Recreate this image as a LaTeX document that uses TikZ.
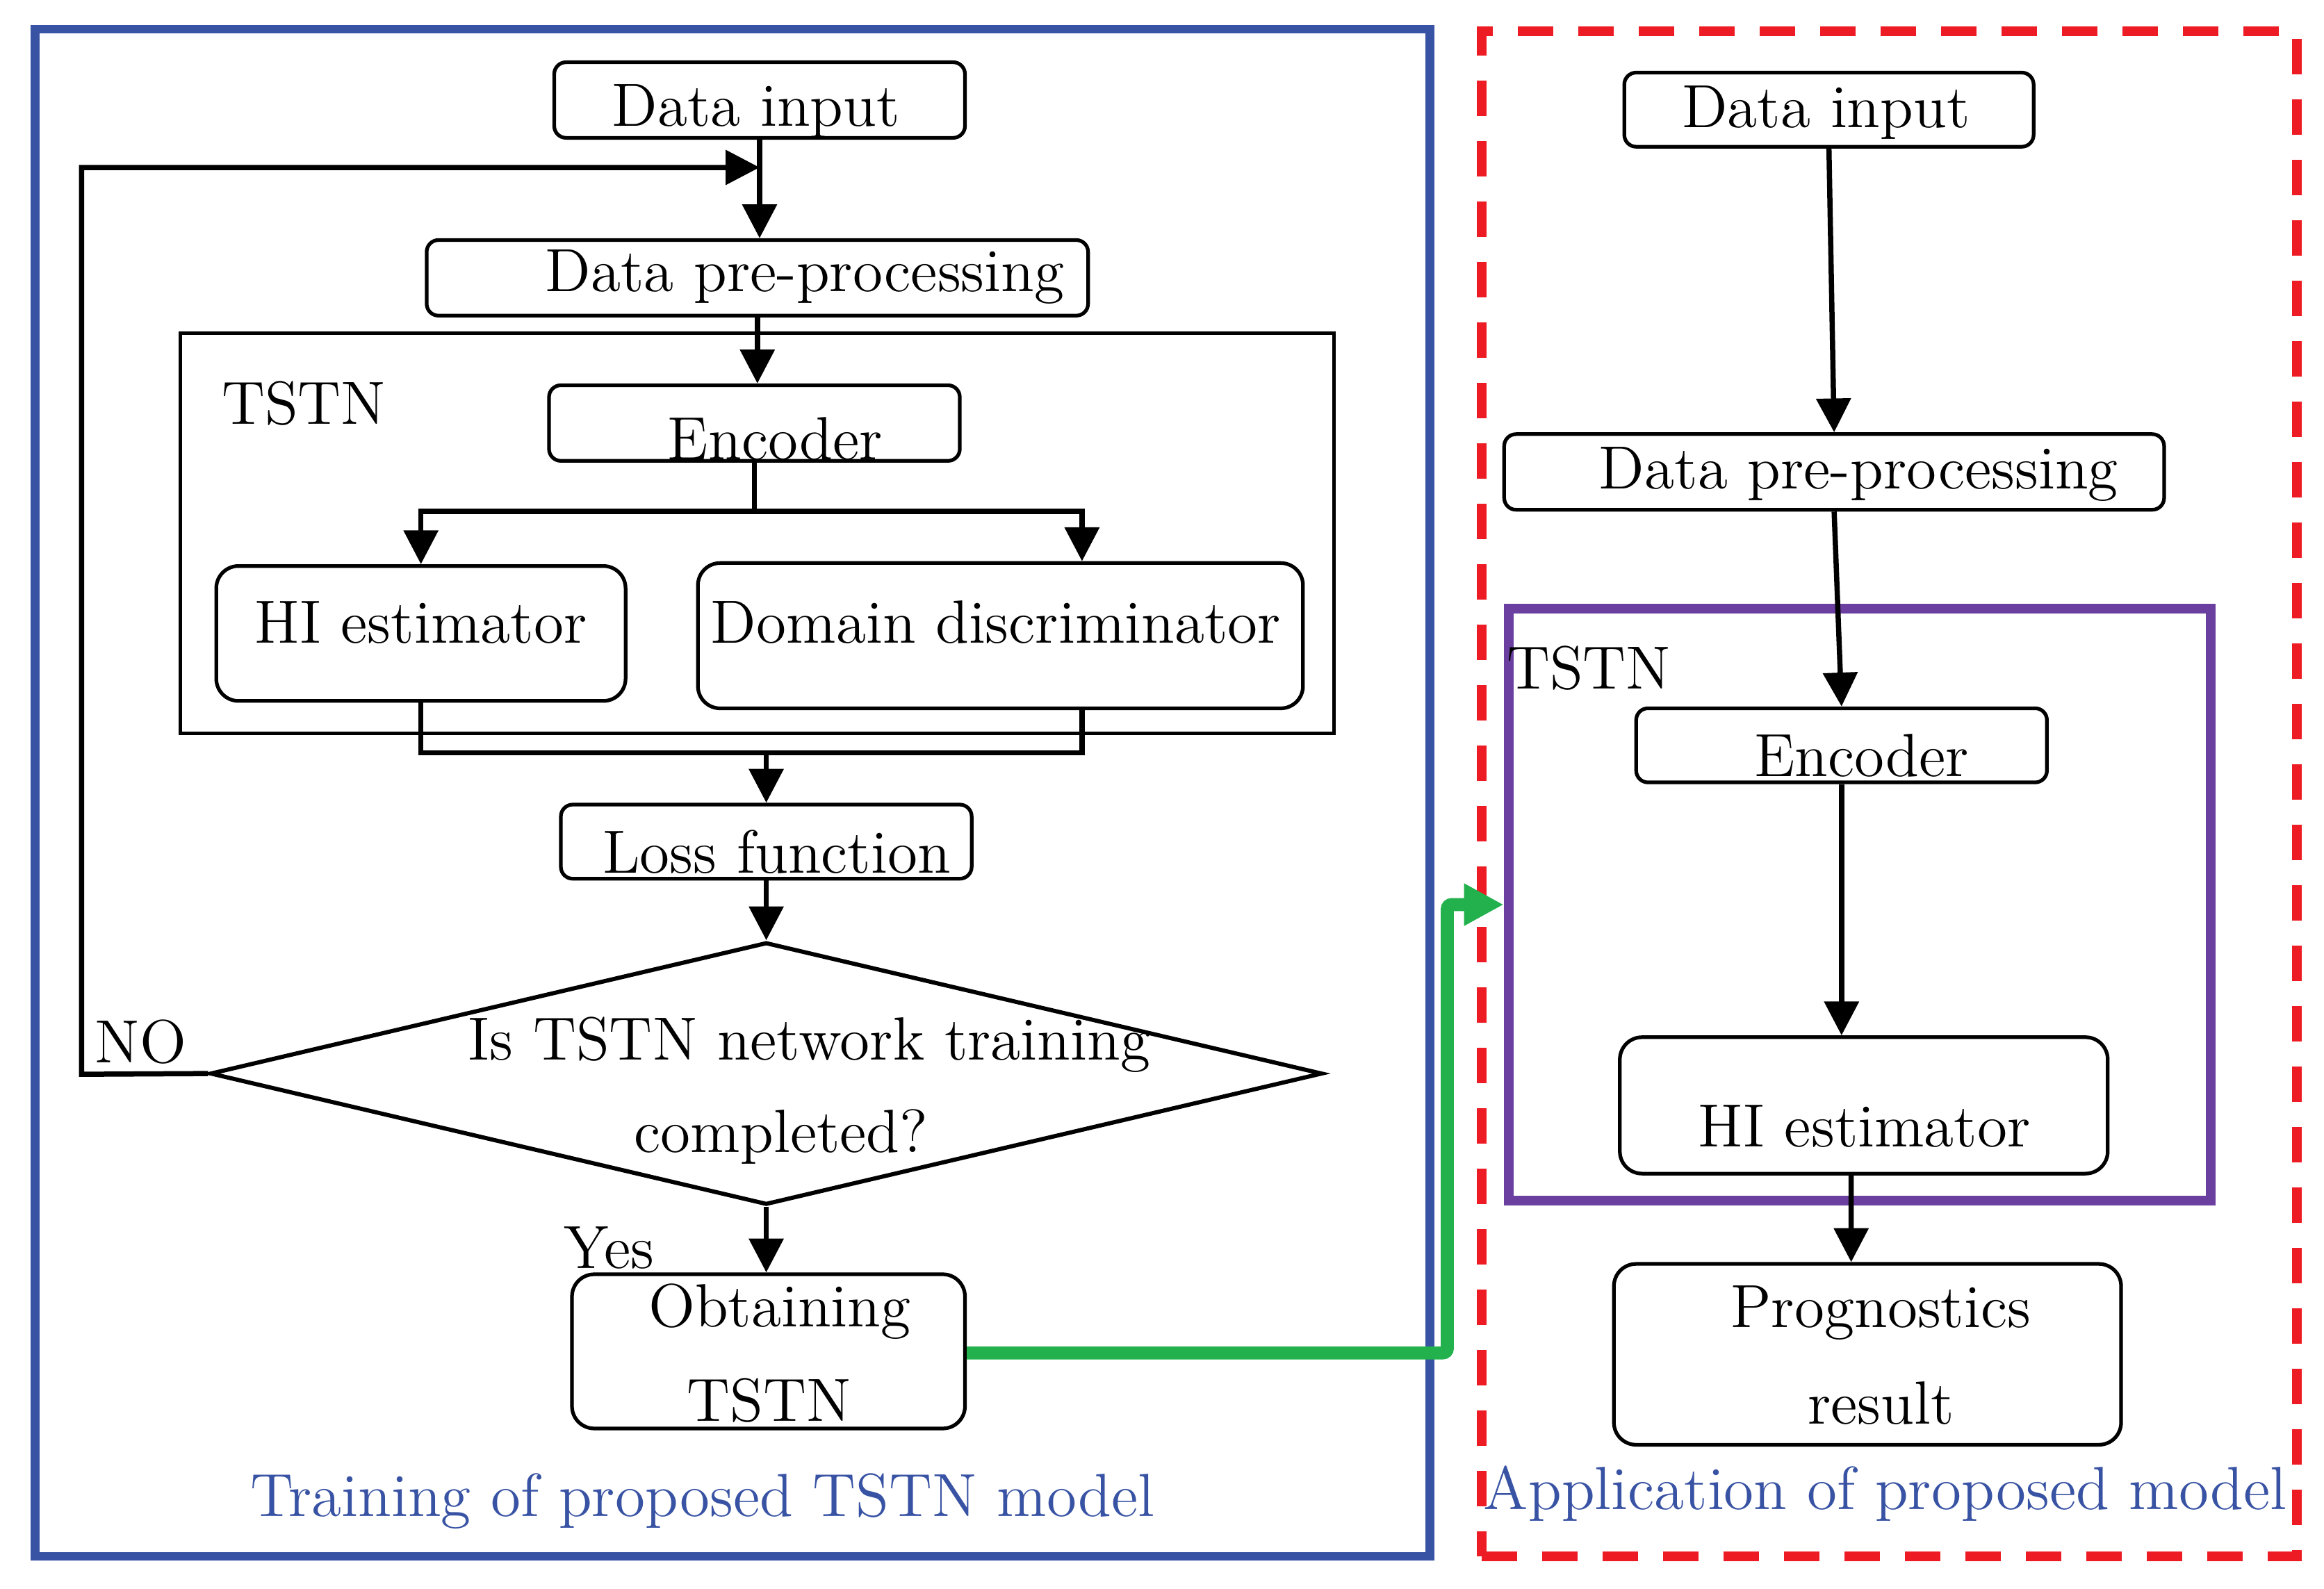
\documentclass[tikz,border=0pt]{standalone}
\usetikzlibrary{arrows.meta,shapes.geometric}
\definecolor{frameblue}{RGB}{57,83,164}
\definecolor{framered}{RGB}{237,28,36}
\definecolor{flowgreen}{RGB}{34,177,76}
\definecolor{tstnpurple}{RGB}{107,63,160}

\begin{document}
\begin{tikzpicture}[x=0.01cm,y=-0.01cm,
    box/.style={draw,line width=0.7pt,rounded corners=0.8mm,inner sep=0pt},
    bigbox/.style={box,rounded corners=1.5mm},
    txt/.style={inner sep=0pt,font=\fontsize{11.7}{14}\selectfont},
    arr/.style={line width=1pt,-{Triangle[length=6.5pt,width=6.5pt]}},
    ln/.style={line width=1pt}]
    \useasboundingbox (0,0) rectangle (1568,1072);

    % Outer frames
    \node[draw=frameblue,line width=1.7pt,minimum width=9.405cm,minimum height=10.3cm,inner sep=0pt] (train) at (494.25,535) {};
    \node[draw=framered,line width=1.9pt,dash pattern=on 6.8pt off 4.8pt,minimum width=5.495cm,minimum height=10.285cm,inner sep=0pt] (apply) at (1274.75,535.75) {};

    % Training side
    \node[box,minimum width=2.77cm,minimum height=0.51cm] (din) at (512.5,67.5) {};
    \node[box,minimum width=4.46cm,minimum height=0.51cm] (pre) at (511,187.5) {};
    \node[draw,line width=0.7pt,minimum width=7.78cm,minimum height=2.7cm,inner sep=0pt] (tstn) at (511,360) {};
    \node[box,minimum width=2.77cm,minimum height=0.51cm] (enc) at (509,285.5) {};
    \node[bigbox,minimum width=2.76cm,minimum height=0.91cm] (hi) at (284,427.5) {};
    \node[bigbox,minimum width=4.08cm,minimum height=0.98cm] (dd) at (675,429) {};
    \node[box,minimum width=2.77cm,minimum height=0.5cm] (loss) at (517,568) {};
    \node[draw,diamond,line width=0.8pt,minimum width=7.5cm,minimum height=1.77cm,inner sep=0pt] (dia) at (517,724.5) {};
    \node[bigbox,minimum width=2.65cm,minimum height=1.04cm] (obt) at (518.5,912) {};

    % Application side
    \node[box,minimum width=2.76cm,minimum height=0.5cm] (din2) at (1234,74) {};
    \node[box,minimum width=4.45cm,minimum height=0.51cm] (pre2) at (1237.5,318.5) {};
    \node[draw=tstnpurple,line width=1.9pt,minimum width=4.735cm,minimum height=3.99cm,inner sep=0pt] (tstn2) at (1254.75,610.5) {};
    \node[box,minimum width=2.77cm,minimum height=0.5cm] (enc2) at (1242.5,503) {};
    \node[bigbox,minimum width=3.29cm,minimum height=0.92cm] (hi2) at (1257.5,746) {};
    \node[bigbox,minimum width=3.42cm,minimum height=1.22cm] (prog) at (1260,914) {};

    % Texts
    \foreach \n/\x/\y/\t in {din-t/510/75/Data input, pre-t/543/187/Data pre-processing,
        tstn-t/205/272/TSTN, enc-t/523/296/Encoder, hi-t/284/420/HI estimator,
        dd-t/672/420/Domain discriminator, loss-t/524/575/Loss function,
        dia-t1/546/705/Is TSTN network training, dia-t2/527/767/completed?,
        no-t/95/703/NO, yes-t/411/842/Yes, obt-t1/526/885/Obtaining, obt-t2/519/945/TSTN,
        din2-t/1232/76/Data input, pre2-t/1254/320/Data pre-processing,
        tstn2-t/1072/451/TSTN, enc2-t/1256/510/Encoder, hi2-t/1258/760/HI estimator,
        prog-t1/1269/886/Prognostics, prog-t2/1269/947/result} {
        \node[txt] (\n) at (\x,\y) {\t};
    }
    \node[txt,text=frameblue] (train-t) at (474,1013) {Training of proposed TSTN model};
    \node[txt,text=frameblue] (apply-t) at (1272,1008) {Application of proposed model};

    % Training connectors
    \coordinate (join) at (din.south |- 0,113);
    \coordinate (noc) at (55,725);
    \coordinate (loopc) at (55,113);
    \draw[arr] (din.south) -- (din.south |- pre.north);
    \draw[arr] (dia.west) -- (noc) -- (loopc) -- (join);
    \draw[arr] (pre.south) -- (pre.south |- enc.north);
    \coordinate (split) at (enc.south |- 0,345);
    \draw[ln] (enc.south) -- (split);
    \draw[arr] (split) -| (hi.north);
    \draw[arr] (split) -| ([xshift=0.55cm]dd.north);
    \coordinate (merge) at (517,508);
    \draw[ln] (hi.south) |- (merge) -| ([xshift=0.55cm]dd.south);
    \draw[arr] (merge) -- (loss.north);
    \draw[arr] (loss.south) -- (dia.north);
    \draw[arr] (dia.south) -- (dia.south |- obt.north);

    % Training to application
    \coordinate (bend1) at (976.5,913);
    \draw[flowgreen,line width=2.5pt,rounded corners=0.3mm,-{Triangle[length=7.6pt,width=7.6pt]}] (obt.east |- bend1) -- (bend1) |- (tstn2.west);

    % Application connectors
    \draw[arr] (din2.south) -- (pre2.north);
    \draw[arr] (pre2.south) -- (enc2.north);
    \draw[arr] (enc2.south) -- (enc2.south |- hi2.north);
    \draw[arr] ([xshift=-0.085cm]hi2.south) -- ([xshift=-0.11cm]prog.north);
\end{tikzpicture}
\end{document}
